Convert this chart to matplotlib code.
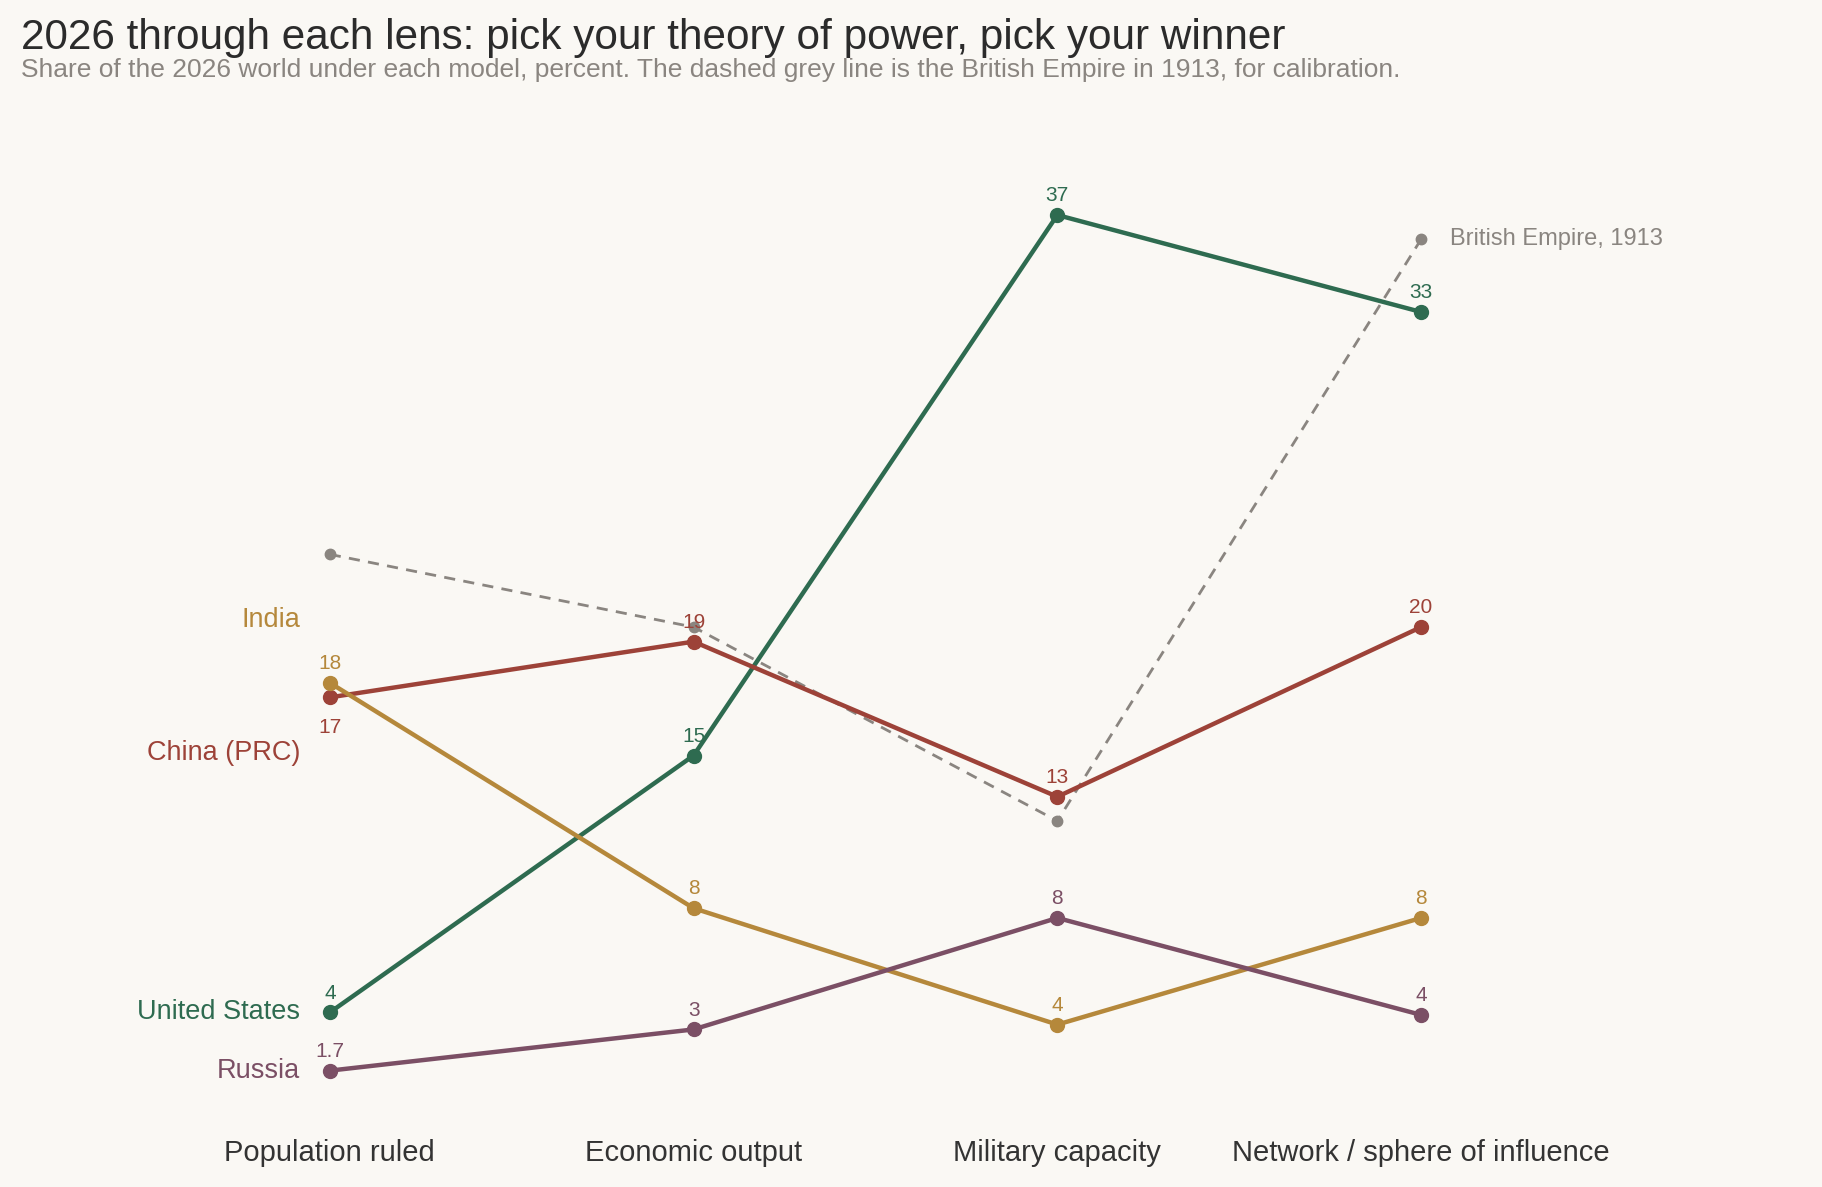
import matplotlib
matplotlib.use("Agg")
import matplotlib.pyplot as plt

plt.rcParams['font.family'] = ['Liberation Sans', 'DejaVu Sans']

# --- data -------------------------------------------------------------
lenses = ["Population ruled", "Economic output", "Military capacity",
          "Network / sphere of influence"]

countries = ["United States", "China (PRC)", "India", "Russia"]
us_share = [4.1, 14.7, 37.0, 33.0]
china_share = [17.1, 19.4, 13.0, 20.0]
india_share = [17.7, 8.4, 3.6, 8.0]
russia_share = [1.7, 3.4, 8.0, 4.0]
british_empire_1913 = [23.0, 20.0, 12.0, 36.0]

colors = {
    "United States": "#2e6b50",
    "China (PRC)": "#9d4238",
    "India": "#b5883b",
    "Russia": "#7b4f65",
}
grey = "#8a8580"
bg = "#faf8f4"

# --- figure -----------------------------------------------------------
fig = plt.figure(figsize=(18.22, 11.87), dpi=100, facecolor=bg)
ax = fig.add_axes([0.0812, 0.0429, 0.7986, 0.8372])
ax.set_facecolor(bg)
x = list(range(len(lenses)))

# calibration line
ax.plot(x, british_empire_1913, color=grey, lw=2.0, ls=(0, (4, 3)),
        marker='o', ms=7.5, zorder=2)
ax.annotate("British Empire, 1913", (x[-1], british_empire_1913[-1]),
            xytext=(21, 0), textcoords='offset points', va='center',
            ha='left', color=grey, fontsize=17)

series = [us_share, china_share, india_share, russia_share]
# vertical nudges (points) for the left-hand names so they don't collide
name_nudge = {"United States": 0, "China (PRC)": -40, "India": 45, "Russia": 0}

for name, vals in zip(countries, series):
    c = colors[name]
    ax.plot(x, vals, color=c, lw=3.2, marker='o', ms=10, zorder=3,
            solid_capstyle='round')
    for i, v in enumerate(vals):
        txt = f"{v:.1f}" if v < 2 else f"{v:.0f}"
        dy = 10
        if name == "China (PRC)" and i == 0:
            dy = -26
        ax.annotate(txt, (i, v), xytext=(0, dy), textcoords='offset points',
                    ha='center', va='baseline', color=c, fontsize=15,
                    zorder=5)
    ax.annotate(name, (0, vals[0]), xytext=(-21.5, name_nudge[name]),
                textcoords='offset points', ha='right', va='center',
                color=c, fontsize=19.5)

ax.set_xlim(-0.5, 3.5)
ax.set_ylim(-1, 40)
ax.set_xticks(x)
ax.set_xticklabels(lenses, fontsize=21, color="#333333")
ax.tick_params(axis='x', length=0, pad=2)
ax.set_yticks([])
for s in ax.spines.values():
    s.set_visible(False)

fig.text(0.0115, 0.968, "2026 through each lens: pick your theory of power, pick your winner",
         fontsize=30.4, color="#2b2b2b", ha='left', va='center')
fig.text(0.0115, 0.941, "Share of the 2026 world under each model, percent. The dashed grey line is the British Empire in 1913, for calibration.",
         fontsize=19, color=grey, ha='left', va='center')

fig.savefig("out.png", dpi=100, facecolor=bg)
